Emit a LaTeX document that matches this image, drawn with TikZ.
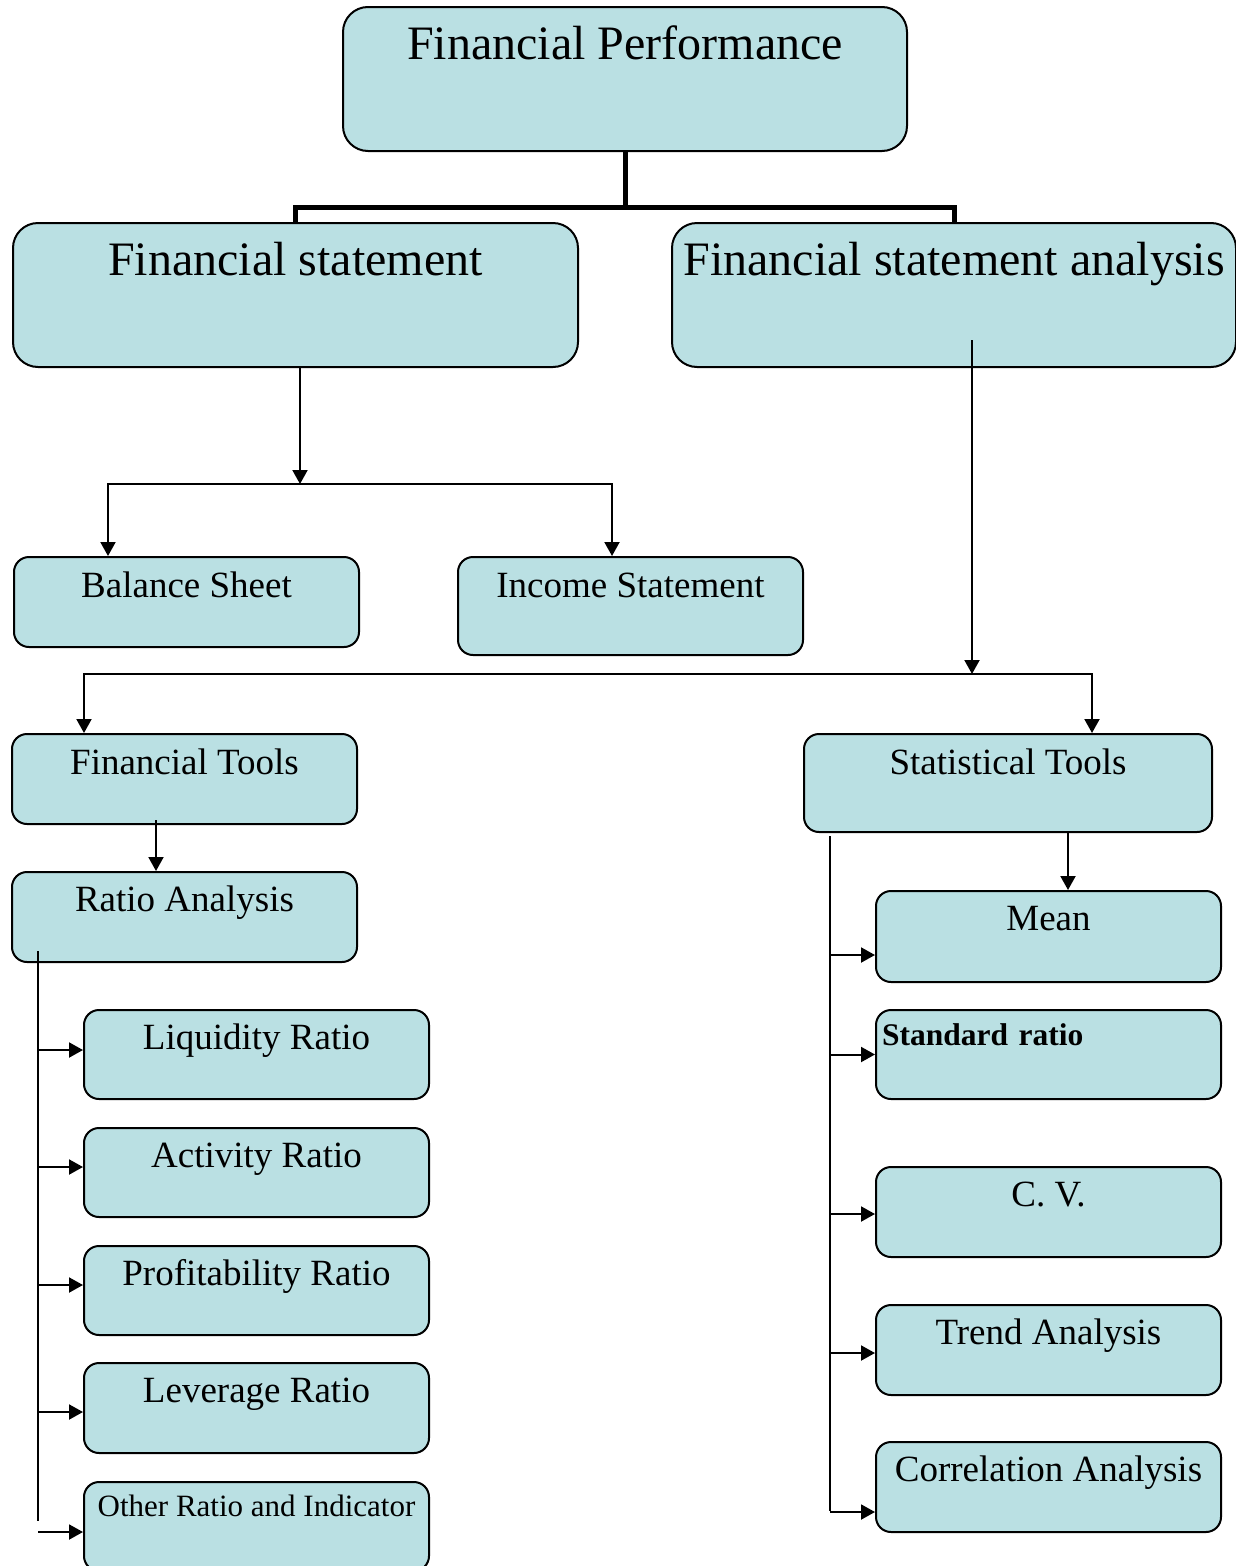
\documentclass[tikz,border=0pt]{standalone}
\usepackage{fontspec}
\setmainfont{Liberation Serif}
\usetikzlibrary{arrows.meta}
\definecolor{boxfill}{HTML}{BAE0E3}

\tikzset{
    box/.style={draw, line width=2pt, rounded corners=15pt, fill=boxfill, anchor=north,
                inner xsep=0pt, inner ysep=0pt, minimum width=345pt},
    bigbox/.style={box, rounded corners=25pt, minimum width=564pt, text height=52pt, text depth=92pt,
                   font=\fontsize{48}{54}\selectfont},
    midtext/.style={font=\fontsize{37}{42}\selectfont},
    arr/.style={-{Triangle[length=14pt,width=15pt]}, line width=2pt},
    trunk/.style={line width=5pt},
    spine/.style={line width=2pt}
}

\begin{document}
\begin{tikzpicture}[x=1pt, y=-1pt]

        \useasboundingbox (0,0) rectangle (1236,1566);

        % Top levels
        \node[bigbox] (perf) at (625,6) {Financial Performance};
        \node[bigbox, minimum width=565pt] (fs) at (295.5,222) {Financial statement};
        \node[bigbox] (fsa) at (954,222) {Financial statement analysis};

        % Statements
        \node[box, midtext, text height=40pt, text depth=50pt] (bs) at (186.5,556) {Balance Sheet};
        \node[box, midtext, text height=40pt, text depth=58pt] (is) at (630.5,556) {Income Statement};

        % Tools
        \node[box, midtext, text height=40pt, text depth=50pt] (ft) at (184.5,733) {Financial Tools};
        \node[box, midtext, minimum width=408pt, text height=40pt, text depth=58pt] (st) at (1008,733) {Statistical Tools};
        \node[box, midtext, text height=39pt, text depth=51pt] (ra) at (184.5,871) {Ratio Analysis};

        % Ratios
        \node[box, midtext, text height=39pt, text depth=50pt] (liq) at (256.5,1009) {Liquidity Ratio};
        \node[box, midtext, text height=39pt, text depth=50pt] (act) at (256.5,1127) {Activity Ratio};
        \node[box, midtext, text height=39pt, text depth=50pt] (prof) at (256.5,1245) {Profitability Ratio};
        \node[box, midtext, text height=39pt, text depth=51pt] (lev) at (256.5,1362) {Leverage Ratio};
        \node[box, font=\fontsize{31}{36}\selectfont, text height=34pt, text depth=55pt] (oth) at (256.5,1481) {Other Ratio and Indicator};

        % Statistics
        \node[box, midtext, text height=39pt, text depth=52pt] (mean) at (1048.5,890) {Mean};
        \node[box, font=\fontsize{31.5}{36}\selectfont\bfseries, text width=333pt, align=left, inner xsep=6pt,
              text height=35pt, text depth=54pt] (std) at (1048.5,1009) {Standard ratio};
        \node[box, midtext, text height=39pt, text depth=51pt] (cv) at (1048.5,1166) {C. V.};
        \node[box, midtext, text height=39pt, text depth=51pt] (trend) at (1048.5,1304) {Trend Analysis};
        \node[box, midtext, text height=39pt, text depth=51pt] (corr) at (1048.5,1441) {Correlation Analysis};

        % Junction points
        \coordinate (topjoin) at (625,207);
        \coordinate (fsout) at (300,366);
        \coordinate (fssplit) at (300,484);
        \coordinate (bsin) at (108,556);
        \coordinate (isin) at (612,556);
        \coordinate (fsaout) at (972,340);
        \coordinate (fsasplit) at (972,674);
        \coordinate (ftin) at (84,733);
        \coordinate (stin) at (1092,733);
        \coordinate (ftout) at (156,820);
        \coordinate (stout) at (1068,831);
        \coordinate (raspine) at (38,951);
        \coordinate (raend) at (38,1521);
        \coordinate (stspine) at (830,836);
        \coordinate (stend) at (830,1511);

        % Thick trunk under the title
        \draw[trunk] (perf.south) -- (topjoin);
        \draw[trunk] (fs.north) |- (topjoin) -| (fsa.north);

        % Financial statement branch
        \draw[arr] (fsout) -- (fssplit);
        \draw[arr] (fssplit) -| (bsin);
        \draw[arr] (fssplit) -| (isin);

        % Financial statement analysis branch
        \draw[arr] (fsaout) -- (fsasplit);
        \draw[arr] (fsasplit) -| (ftin);
        \draw[arr] (fsasplit) -| (stin);

        % Tools down to their first box
        \draw[arr] (ftout) -- (ftout |- ra.north);
        \draw[arr] (stout) -- (stout |- mean.north);

        % Ratio list
        \draw[spine] (raspine) -- (raend);
        \foreach \b/\d in {liq/4.5, act/5.5, prof/5.5, lev/-4, oth/-5.5}
            \draw[arr] ([yshift=\d pt]\b.west -| raspine) -- ([yshift=\d pt]\b.west);

        % Statistics list
        \draw[spine] (stspine) -- (stend);
        \foreach \b/\d in {mean/-18.5, std/0, cv/-2, trend/-3, corr/-25}
            \draw[arr] ([yshift=\d pt]\b.west -| stspine) -- ([yshift=\d pt]\b.west);

    \end{tikzpicture}
\end{document}
